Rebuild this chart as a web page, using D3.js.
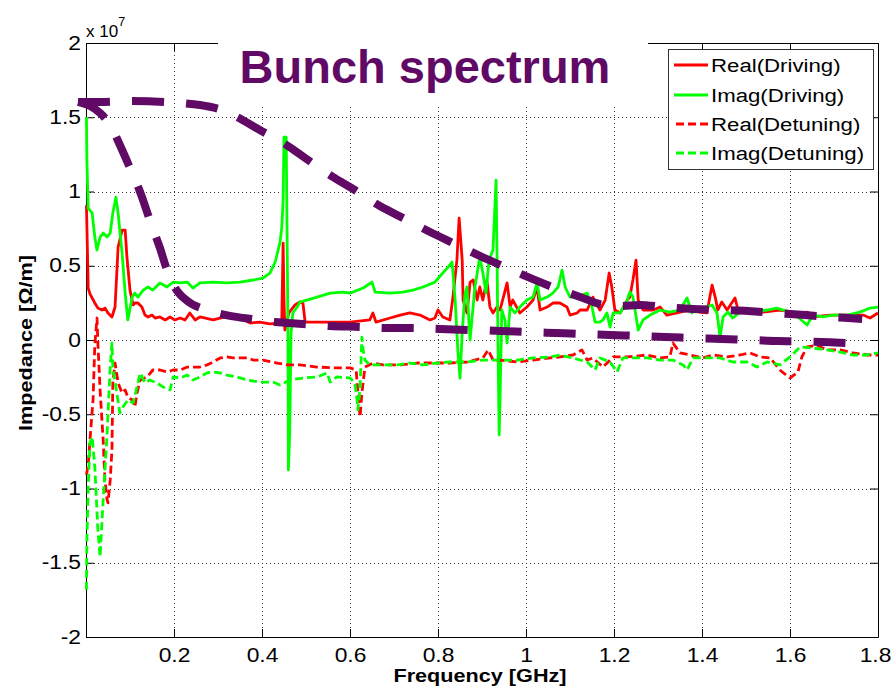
<!DOCTYPE html>
<html><head><meta charset="utf-8">
<script src="https://cdn.jsdelivr.net/npm/d3@7"></script>
<style>body{margin:0;background:#fff}svg{display:block}</style>
</head><body>
<svg id="chart" width="892" height="688"></svg>
<script>
// ---------------- data ----------------
const xTicks = [0.2,0.4,0.6,0.8,1.0,1.2,1.4,1.6,1.8];
const xTickLabels = ["0.2","0.4","0.6","0.8","1","1.2","1.4","1.6","1.8"];
const yTicks = [-2,-1.5,-1,-0.5,0,0.5,1,1.5,2];
const yTickLabels = ["-2","-1.5","-1","-0.5","0","0.5","1","1.5","2"];
const seriesNames = ["Real(Driving)","Imag(Driving)","Real(Detuning)","Imag(Detuning)"];
const titleText = "Bunch spectrum";

// Real(Driving)  [GHz] / [1e7 Ohm/m]
const realDrivingF = [0.001,0.005,0.009,0.020,0.027,0.036,0.043,0.050,0.059,0.066,0.073,0.082,0.089,0.093,0.100,0.107,0.111,0.118,0.127,0.134,0.141,0.150,0.157,0.168,0.180,0.191,0.202,0.214,0.225,0.236,0.248,0.259,0.289,0.316,0.350,0.373,0.395,0.418,0.441,0.445,0.448,0.450,0.452,0.461,0.475,0.486,0.493,0.498,0.525,0.561,0.600,0.645,0.652,0.659,0.691,0.714,0.736,0.759,0.782,0.793,0.800,0.811,0.827,0.834,0.843,0.848,0.855,0.857,0.866,0.873,0.880,0.889,0.895,0.902,0.911,0.918,0.925,0.934,0.941,0.957,0.964,0.970,0.986,1.002,1.016,1.025,1.032,1.048,1.061,1.077,1.093,1.100,1.116,1.123,1.139,1.152,1.168,1.180,1.189,1.195,1.202,1.214,1.230,1.236,1.243,1.250,1.255,1.266,1.289,1.305,1.320,1.343,1.373,1.395,1.411,1.423,1.430,1.436,1.445,1.457,1.475,1.482,1.502,1.539,1.577,1.616,1.639,1.652,1.691,1.730,1.766,1.782,1.800];
const realDrivingV = [0.908,0.350,0.310,0.249,0.215,0.202,0.215,0.182,0.155,0.222,0.626,0.740,0.740,0.559,0.336,0.236,0.249,0.249,0.222,0.168,0.155,0.168,0.148,0.155,0.135,0.155,0.135,0.148,0.135,0.182,0.135,0.155,0.135,0.155,0.148,0.114,0.121,0.108,0.114,0.135,0.653,0.269,0.067,0.182,0.236,0.256,0.249,0.121,0.121,0.121,0.121,0.135,0.182,0.121,0.148,0.168,0.182,0.168,0.135,0.148,0.202,0.155,0.135,0.289,0.538,0.821,0.538,0.269,0.182,0.390,0.404,0.269,0.357,0.269,0.404,0.222,0.182,0.222,0.202,0.384,0.222,0.269,0.182,0.222,0.269,0.357,0.202,0.222,0.249,0.249,0.222,0.168,0.182,0.202,0.202,0.289,0.202,0.269,0.451,0.357,0.202,0.182,0.269,0.289,0.404,0.538,0.269,0.202,0.202,0.222,0.168,0.182,0.202,0.188,0.182,0.370,0.289,0.202,0.256,0.202,0.283,0.202,0.188,0.188,0.202,0.182,0.188,0.155,0.168,0.168,0.168,0.148,0.182];

// Imag(Driving)
const imagDrivingF = [0.001,0.002,0.005,0.014,0.020,0.025,0.032,0.039,0.048,0.055,0.061,0.068,0.073,0.082,0.089,0.095,0.105,0.111,0.118,0.130,0.141,0.152,0.168,0.184,0.198,0.214,0.230,0.243,0.259,0.289,0.320,0.350,0.380,0.402,0.418,0.430,0.441,0.445,0.448,0.450,0.455,0.457,0.459,0.460,0.463,0.466,0.470,0.480,0.486,0.502,0.525,0.555,0.584,0.600,0.630,0.650,0.657,0.691,0.720,0.743,0.766,0.793,0.811,0.823,0.832,0.839,0.845,0.850,0.855,0.861,0.866,0.870,0.873,0.877,0.884,0.895,0.902,0.909,0.916,0.925,0.930,0.932,0.934,0.936,0.939,0.941,0.945,0.952,0.957,0.964,0.975,0.986,1.002,1.016,1.025,1.032,1.048,1.061,1.073,1.082,1.089,1.100,1.116,1.139,1.150,1.157,1.168,1.175,1.184,1.191,1.198,1.214,1.230,1.236,1.243,1.255,1.266,1.282,1.305,1.327,1.350,1.366,1.377,1.389,1.402,1.423,1.434,1.441,1.448,1.459,1.470,1.486,1.516,1.548,1.570,1.607,1.639,1.652,1.675,1.698,1.730,1.759,1.782,1.800];
const imagDrivingV = [1.501,1.211,0.888,0.855,0.693,0.606,0.693,0.720,0.693,0.720,0.855,0.962,0.855,0.585,0.316,0.135,0.289,0.316,0.289,0.336,0.357,0.336,0.384,0.357,0.390,0.384,0.390,0.350,0.384,0.390,0.384,0.390,0.404,0.417,0.451,0.525,0.659,0.760,0.942,1.366,1.366,0.720,0.047,-0.875,-0.626,0.047,0.182,0.222,0.256,0.269,0.289,0.316,0.323,0.316,0.350,0.390,0.323,0.316,0.323,0.336,0.357,0.390,0.451,0.491,0.525,0.269,-0.067,-0.256,0.047,0.303,0.357,0.135,0.000,0.135,0.357,0.559,0.451,0.316,0.538,0.606,0.942,1.077,0.606,0.067,-0.639,-0.404,0.202,0.135,-0.020,0.222,0.182,0.222,0.269,0.289,0.384,0.269,0.289,0.316,0.357,0.471,0.357,0.289,0.289,0.316,0.222,0.121,0.121,0.135,0.182,0.087,0.182,0.182,0.269,0.323,0.289,0.067,0.135,0.168,0.202,0.188,0.202,0.283,0.182,0.222,0.215,0.236,0.182,0.020,0.155,0.188,0.148,0.188,0.188,0.202,0.215,0.182,0.101,0.168,0.155,0.168,0.168,0.188,0.215,0.222];

// Real(Detuning)
const realDetuningF = [0.001,0.005,0.009,0.016,0.020,0.025,0.027,0.032,0.039,0.043,0.048,0.050,0.055,0.059,0.061,0.066,0.073,0.082,0.089,0.095,0.105,0.111,0.116,0.123,0.139,0.152,0.168,0.184,0.198,0.214,0.230,0.243,0.259,0.275,0.289,0.305,0.320,0.334,0.350,0.366,0.380,0.402,0.434,0.457,0.486,0.525,0.570,0.600,0.614,0.618,0.623,0.627,0.634,0.652,0.675,0.714,0.752,0.789,0.827,0.866,0.902,0.914,0.925,0.941,0.980,1.016,1.055,1.077,1.107,1.127,1.139,1.152,1.175,1.198,1.230,1.275,1.305,1.327,1.334,1.350,1.373,1.402,1.425,1.457,1.486,1.509,1.532,1.555,1.577,1.600,1.618,1.627,1.639,1.661,1.684,1.714,1.743,1.775,1.800];
const realDetuningV = [-0.908,-0.841,-0.673,-0.404,-0.034,0.148,-0.020,-0.336,-0.673,-0.942,-1.077,-1.097,-0.942,-0.740,-0.289,-0.155,-0.289,-0.357,-0.336,-0.384,-0.404,-0.451,-0.357,-0.269,-0.249,-0.202,-0.202,-0.215,-0.202,-0.202,-0.182,-0.182,-0.182,-0.168,-0.148,-0.121,-0.114,-0.121,-0.121,-0.121,-0.135,-0.135,-0.155,-0.168,-0.168,-0.182,-0.188,-0.188,-0.202,-0.357,-0.518,-0.357,-0.182,-0.155,-0.168,-0.168,-0.155,-0.155,-0.155,-0.148,-0.121,-0.067,-0.135,-0.135,-0.148,-0.135,-0.121,-0.114,-0.101,-0.067,-0.135,-0.121,-0.182,-0.114,-0.114,-0.101,-0.121,-0.114,-0.020,-0.087,-0.101,-0.121,-0.101,-0.114,-0.101,-0.087,-0.114,-0.121,-0.202,-0.256,-0.215,-0.114,-0.047,-0.034,-0.067,-0.067,-0.087,-0.101,-0.101];

// Imag(Detuning)
const imagDetuningF = [0.001,0.002,0.005,0.009,0.014,0.020,0.027,0.032,0.039,0.048,0.055,0.059,0.061,0.070,0.077,0.084,0.095,0.107,0.116,0.123,0.134,0.145,0.161,0.175,0.191,0.198,0.214,0.230,0.243,0.259,0.275,0.289,0.305,0.320,0.343,0.366,0.395,0.425,0.441,0.464,0.493,0.525,0.548,0.555,0.570,0.600,0.611,0.616,0.618,0.623,0.627,0.630,0.634,0.645,0.675,0.707,0.736,0.766,0.798,0.827,0.866,0.902,0.941,0.980,1.016,1.055,1.077,1.107,1.139,1.157,1.168,1.191,1.207,1.220,1.243,1.275,1.305,1.334,1.357,1.366,1.380,1.411,1.441,1.470,1.502,1.525,1.548,1.577,1.600,1.623,1.652,1.684,1.714,1.743,1.775,1.800];
const imagDetuningV = [-1.682,-1.346,-0.989,-0.693,-0.653,-0.855,-1.279,-1.460,-1.077,-0.626,-0.182,-0.020,-0.182,-0.357,-0.491,-0.451,-0.404,-0.424,-0.316,-0.222,-0.289,-0.269,-0.289,-0.316,-0.336,-0.249,-0.256,-0.236,-0.269,-0.249,-0.222,-0.215,-0.222,-0.236,-0.249,-0.269,-0.283,-0.283,-0.303,-0.269,-0.256,-0.249,-0.222,-0.283,-0.249,-0.256,-0.289,-0.404,-0.471,-0.316,0.020,-0.067,-0.135,-0.168,-0.168,-0.168,-0.155,-0.168,-0.155,-0.148,-0.148,-0.135,-0.135,-0.135,-0.121,-0.114,-0.101,-0.121,-0.148,-0.202,-0.121,-0.148,-0.215,-0.121,-0.121,-0.121,-0.135,-0.135,-0.168,-0.202,-0.121,-0.121,-0.121,-0.148,-0.148,-0.182,-0.148,-0.168,-0.114,-0.047,-0.054,-0.067,-0.081,-0.101,-0.101,-0.087];

// "Bunch spectrum" annotation (hand-drawn envelope), in axis units
const bunchUpperF = [-0.018,0.032,0.100,0.180,0.259,0.309,0.343,0.395,0.448,0.498,0.561,0.611,0.668,0.725,0.782,0.839,0.895,0.952,1.009,1.066,1.123,1.168,1.214,1.259,1.316,1.380,1.441,1.505,1.566,1.634,1.695,1.764];
const bunchUpperV = [1.603,1.603,1.609,1.603,1.582,1.549,1.502,1.414,1.327,1.226,1.098,1.010,0.902,0.815,0.727,0.646,0.566,0.492,0.418,0.350,0.290,0.242,0.229,0.236,0.222,0.209,0.202,0.195,0.182,0.168,0.155,0.141];
const bunchLowerF = [-0.018,0.009,0.032,0.055,0.077,0.100,0.123,0.145,0.168,0.186,0.209,0.241,0.282,0.327,0.377,0.430,0.493,0.555,0.623,0.680,0.748,0.805,0.873,0.941,1.002,1.066,1.130,1.191,1.259,1.316,1.384,1.445,1.514,1.573,1.639,1.702,1.764];
const bunchLowerV = [1.603,1.576,1.529,1.448,1.313,1.158,0.997,0.808,0.620,0.458,0.323,0.242,0.195,0.162,0.141,0.121,0.108,0.094,0.088,0.081,0.081,0.074,0.067,0.061,0.054,0.047,0.040,0.034,0.027,0.020,0.013,0.007,0.000,-0.007,-0.010,-0.017,-0.024];

// ---------------- drawing ----------------
const FONT = "'Liberation Sans', Arial, Helvetica, sans-serif";
const SX = 1.17;          // horizontal stretch of the original figure's text
const PURPLE = "#600a66";
const svg = d3.select("#chart");
const L = 86, R = 878, T = 43, B = 637;
const x = d3.scaleLinear().domain([0, 1.8]).range([L, R]);
const y = d3.scaleLinear().domain([-2, 2]).range([B, T]);

// grid
const grid = svg.append("g").attr("stroke", "#333").attr("stroke-width", 1)
  .attr("stroke-dasharray", "1,3").attr("shape-rendering", "crispEdges");
xTicks.filter(d => d < 1.8).forEach(d => grid.append("line")
  .attr("x1", Math.round(x(d)) + 0.5).attr("x2", Math.round(x(d)) + 0.5).attr("y1", T).attr("y2", B));
yTicks.filter(d => d > -2 && d < 2).forEach(d => grid.append("line")
  .attr("y1", Math.round(y(d)) + 0.5).attr("y2", Math.round(y(d)) + 0.5).attr("x1", L).attr("x2", R));

// axes (ticks inward, MATLAB box)
function styleAxis(g) {
  g.selectAll("path,line").attr("stroke", "#000");
  g.selectAll("text").attr("fill", "#000").attr("font-family", FONT).attr("font-size", 19.5);
}
const gx = svg.append("g").attr("transform", `translate(0,${B})`)
  .call(d3.axisBottom(x).tickValues(xTicks).tickFormat((d, i) => xTickLabels[i])
    .tickSize(-8).tickSizeOuter(0).tickPadding(11));
styleAxis(gx);
gx.selectAll("text").attr("transform", (d, i) =>
  i === xTicks.length - 1 ? `translate(-3,0) scale(${SX},1)` : `scale(${SX},1)`);

const gy = svg.append("g").attr("transform", `translate(${L},0)`)
  .call(d3.axisLeft(y).tickValues(yTicks).tickFormat((d, i) => yTickLabels[i])
    .tickSize(-8).tickSizeOuter(0).tickPadding(0));
styleAxis(gy);
gy.selectAll("text").attr("x", 0).attr("transform", `translate(-5,0) scale(${SX},1)`);

const gt = svg.append("g").attr("transform", `translate(0,${T})`)
  .call(d3.axisTop(x).tickValues(xTicks).tickFormat("").tickSize(-8).tickSizeOuter(0));
styleAxis(gt);
const gr = svg.append("g").attr("transform", `translate(${R},0)`)
  .call(d3.axisRight(y).tickValues(yTicks).tickFormat("").tickSize(-8).tickSizeOuter(0));
styleAxis(gr);

// exponent label
const expo = svg.append("text").attr("x", L).attr("y", 37).attr("font-family", FONT)
  .attr("font-size", 17).attr("fill", "#000");
expo.append("tspan").text("x 10");
expo.append("tspan").attr("dy", -11).attr("font-size", 12.5).text("7");

// axis titles
svg.append("text").attr("transform", `translate(480,682) scale(${SX},1)`)
  .attr("text-anchor", "middle").attr("font-family", FONT).attr("font-weight", "bold")
  .attr("font-size", 18.5).attr("fill", "#000").text("Frequency [GHz]");
svg.append("text").attr("transform", `translate(32,343) rotate(-90) scale(${SX},1)`)
  .attr("text-anchor", "middle").attr("font-family", FONT).attr("font-weight", "bold")
  .attr("font-size", 18.5).attr("fill", "#000").text("Impedance [\u03A9/m]");

// title (white box over the frame)
svg.append("rect").attr("x", 218).attr("y", 0).attr("width", 430).attr("height", 105).attr("fill", "#fff");
svg.append("text").attr("x", 425).attr("y", 83).attr("text-anchor", "middle")
  .attr("font-family", FONT).attr("font-weight", "bold").attr("font-size", 47)
  .attr("fill", PURPLE).text(titleText);

// data lines
const series = [
  {f: realDrivingF, v: realDrivingV, color: "#ff0000", dash: null},
  {f: imagDrivingF, v: imagDrivingV, color: "#00ff00", dash: null},
  {f: realDetuningF, v: realDetuningV, color: "#ff0000", dash: "8,4"},
  {f: imagDetuningF, v: imagDetuningV, color: "#00ff00", dash: "8,4"}
];
const line = d3.line().x(d => x(d[0])).y(d => y(d[1]));
series.forEach(s => {
  svg.append("path").datum(d3.zip(s.f, s.v)).attr("d", line)
    .attr("fill", "none").attr("stroke", s.color).attr("stroke-width", 2.8)
    .attr("stroke-linejoin", "round").attr("stroke-dasharray", s.dash);
});

// annotation envelope
const smooth = d3.line().x(d => x(d[0])).y(d => y(d[1])).curve(d3.curveCatmullRom);
[[bunchUpperF, bunchUpperV], [bunchLowerF, bunchLowerV]].forEach(([f, v]) => {
  svg.append("path").datum(d3.zip(f, v)).attr("d", smooth)
    .attr("fill", "none").attr("stroke", PURPLE).attr("stroke-width", 8)
    .attr("stroke-dasharray", "32,22").attr("stroke-linecap", "butt");
});

// legend
const lg = svg.append("g");
lg.append("rect").attr("x", 668.5).attr("y", 49.5).attr("width", 205).attr("height", 120)
  .attr("fill", "#fff").attr("stroke", "#333").attr("stroke-width", 1);
const legendY = [65, 95, 124, 153];
seriesNames.forEach((name, i) => {
  const s = series[i];
  lg.append("line").attr("x1", s.dash ? 676 : 674).attr("x2", 708)
    .attr("y1", legendY[i]).attr("y2", legendY[i])
    .attr("stroke", s.color).attr("stroke-width", 2.8).attr("stroke-dasharray", s.dash);
  lg.append("text").attr("transform", `translate(711,${legendY[i]}) scale(${SX},1)`)
    .attr("dy", "0.36em").attr("font-family", FONT).attr("font-size", 19)
    .attr("fill", "#000").text(name);
});
</script>
</body></html>
